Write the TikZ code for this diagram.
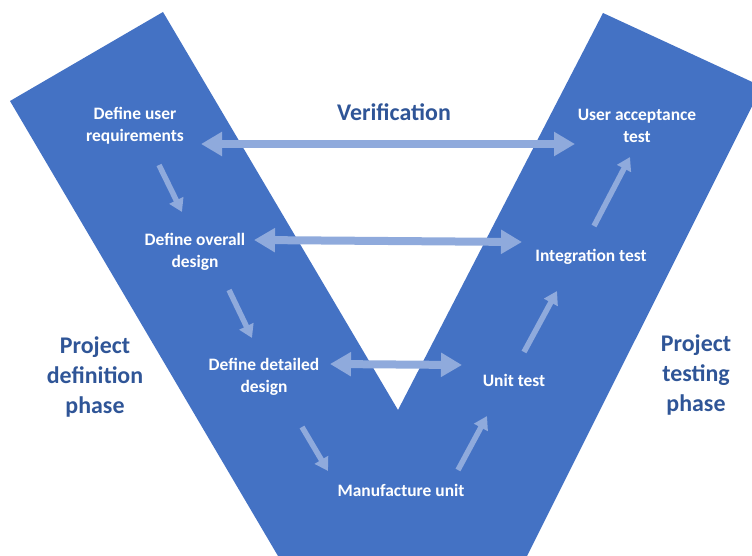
\documentclass[tikz,border=0pt]{standalone}
\usepackage{fontspec}
\setmainfont{Carlito}
\usetikzlibrary{arrows.meta}
\definecolor{band}{HTML}{4472C4}
\definecolor{link}{HTML}{8FAADC}
\definecolor{heading}{HTML}{2F5597}
\tikzset{
  stage/.style={text=white, font=\bfseries\fontsize{17.5}{22}\selectfont, align=center, inner sep=0pt},
  phase/.style={text=heading, font=\bfseries\fontsize{24}{30.5}\selectfont, align=center, inner sep=0pt},
  pair/.style={draw=link, line width=8bp, {Triangle[width=23bp,length=21bp]}-{Triangle[width=23bp,length=21bp]}},
  flow/.style={draw=link, line width=5.5bp, -{Triangle[width=15bp,length=13bp]}}
}
\begin{document}
\begin{tikzpicture}[x=1bp, y=-1bp]
  \useasboundingbox (0,0) rectangle (752,556);
  \begin{scope}
    \clip (0,0) rectangle (752,556);
    % the two arms of the V
    \fill[band] (10,101) -- (163,12) -- (398,410) -- (603,13) -- (762,86.5)
      -- (527,556) -- (278,556) -- cycle;
  \end{scope}

  % stage labels
  \node[stage] (req)  at (135,126) {Define user\\requirements};
  \node[stage] (ovr)  at (195,252) {Define overall\\design};
  \node[stage] (det)  at (264,377) {Define detailed\\design};
  \node[stage] (man)  at (401,490) {Manufacture unit};
  \node[stage] (unit) at (514,380) {Unit test};
  \node[stage] (int)  at (591,257) {Integration test};
  \node[stage] (uat)  at (637,126) {User acceptance\\test};

  % headings
  \node[phase] (ver) at (394,112) {Verification};
  \node[phase] (pdp) at (95,377) {Project\\definition\\phase};
  \node[phase] (ptp) at (696,375) {Project\\testing\\phase};

  % arrow end points
  \coordinate (v1a) at (201,144);  \coordinate (v1b) at (575,144);
  \coordinate (v2a) at (254,240);  \coordinate (v2b) at (522,242);
  \coordinate (v3a) at (330,364);  \coordinate (v3b) at (462,365);
  \coordinate (d1a) at (159,165);  \coordinate (d1b) at (182,212);
  \coordinate (d2a) at (229,290);  \coordinate (d2b) at (252,338);
  \coordinate (d3a) at (302,427);  \coordinate (d3b) at (328,471);
  \coordinate (u1a) at (458,470);  \coordinate (u1b) at (487,416);
  \coordinate (u2a) at (524,352);  \coordinate (u2b) at (557,291);
  \coordinate (u3a) at (594,226);  \coordinate (u3b) at (630,157);

  % verification links
  \draw[pair] (v1a) -- (v1b);
  \draw[pair] (v2a) -- (v2b);
  \draw[pair] (v3a) -- (v3b);

  % flow down the definition arm and up the testing arm
  \draw[flow] (d1a) -- (d1b);
  \draw[flow] (d2a) -- (d2b);
  \draw[flow] (d3a) -- (d3b);
  \draw[flow] (u1a) -- (u1b);
  \draw[flow] (u2a) -- (u2b);
  \draw[flow] (u3a) -- (u3b);
\end{tikzpicture}
\end{document}
